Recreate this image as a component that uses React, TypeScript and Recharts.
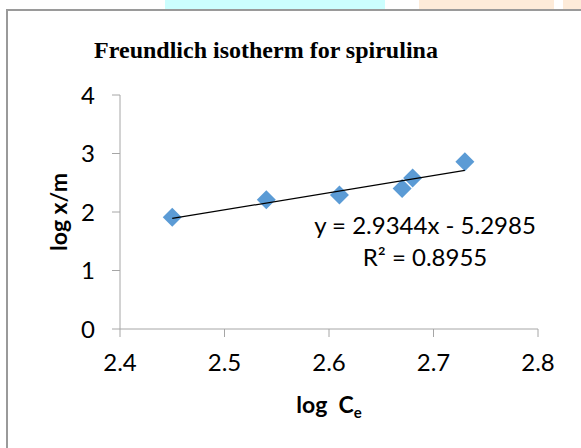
import { ScatterChart, Scatter, XAxis, YAxis, Label } from "recharts";

const logCe = [2.45, 2.54, 2.61, 2.67, 2.68, 2.73];
const logXm = [1.91, 2.21, 2.29, 2.4, 2.58, 2.86];
const trendX = [2.45, 2.73];
const trendY = [1.89, 2.71];
const xTicks = [2.4, 2.5, 2.6, 2.7, 2.8];
const yTicks = [0, 1, 2, 3, 4];

const AXIS = "#a6a6a6";
const MARKER = "#5b9bd5";
const FONT = "Lato, 'Open Sans', sans-serif";

const points = logCe.map((x, i) => ({ x, y: logXm[i] }));
const trend = trendX.map((x, i) => ({ x, y: trendY[i] }));

const Diamond = (p: any) => {
  const r = 9.5;
  return <path d={`M${p.cx},${p.cy - r}L${p.cx + r},${p.cy}L${p.cx},${p.cy + r}L${p.cx - r},${p.cy}Z`} fill={MARKER} />;
};

export default function App() {
  return (
    <div style={{ position: "absolute", left: 0, top: 0, width: 581, height: 448, overflow: "hidden", background: "#fff" }}>
      {/* page background peeking above the chart frame */}
      <div style={{ position: "absolute", left: 165, top: 0, width: 220, height: 9, background: "#ccffff" }} />
      <div style={{ position: "absolute", left: 419, top: 0, width: 135, height: 9, background: "#fdebd9" }} />
      <div style={{ position: "absolute", left: 563, top: 0, width: 18, height: 9, background: "#fdebd9" }} />
      <div style={{ position: "absolute", left: 6, top: 9, width: 600, height: 460, borderLeft: "2px solid #9a9a9a", borderTop: "2px solid #9a9a9a" }} />
      <div style={{ position: "absolute", left: 0, top: 0 }}>
        <ScatterChart width={581} height={448} margin={{ top: 95, right: 43, bottom: 79, left: 60 }}>
          <text x={266} y={58} textAnchor="middle" fontFamily="'Liberation Serif', 'Times New Roman', serif" fontWeight="bold" fontSize={24} fill="#000">
            Freundlich isotherm for spirulina
          </text>
          <XAxis
            type="number"
            dataKey="x"
            domain={[2.4, 2.8]}
            ticks={xTicks}
            tickFormatter={(v) => v.toFixed(1)}
            stroke={AXIS}
            tickSize={8}
            tickMargin={17}
            height={40}
            tick={{ fill: "#000", fontSize: 24, fontFamily: FONT }}
            allowDataOverflow
          >
            <Label
              content={() => (
                <text x={329} y={413} textAnchor="middle" fontFamily={FONT} fontWeight="bold" fontSize={23} fill="#000">
                  {"log\u00a0\u00a0C"}
                  <tspan fontSize={15} dy={5}>e</tspan>
                </text>
              )}
            />
          </XAxis>
          <YAxis
            type="number"
            dataKey="y"
            domain={[0, 4]}
            ticks={yTicks}
            stroke={AXIS}
            tickSize={8}
            tickMargin={17}
            width={60}
            tick={{ fill: "#000", fontSize: 24, fontFamily: FONT }}
            allowDataOverflow
          >
            <Label
              content={() => (
                <text
                  x={58}
                  y={212}
                  textAnchor="middle"
                  dominantBaseline="central"
                  transform="rotate(-90, 58, 212)"
                  fontFamily={FONT}
                  fontWeight="bold"
                  fontSize={23}
                  fill="#000"
                >
                  log x/m
                </text>
              )}
            />
          </YAxis>
          <Scatter data={points} shape={Diamond} isAnimationActive={false} />
          <Scatter
            data={trend}
            line={{ stroke: "#000", strokeWidth: 1.2 }}
            lineType="joint"
            shape={() => <g />}
            isAnimationActive={false}
          />
          <text x={425} y={234} textAnchor="middle" fontFamily={FONT} fontSize={24} fill="#000">
            y = 2.9344x - 5.2985
          </text>
          <text x={425} y={266} textAnchor="middle" fontFamily={FONT} fontSize={24} fill="#000">
            R² = 0.8955
          </text>
        </ScatterChart>
      </div>
    </div>
  );
}
